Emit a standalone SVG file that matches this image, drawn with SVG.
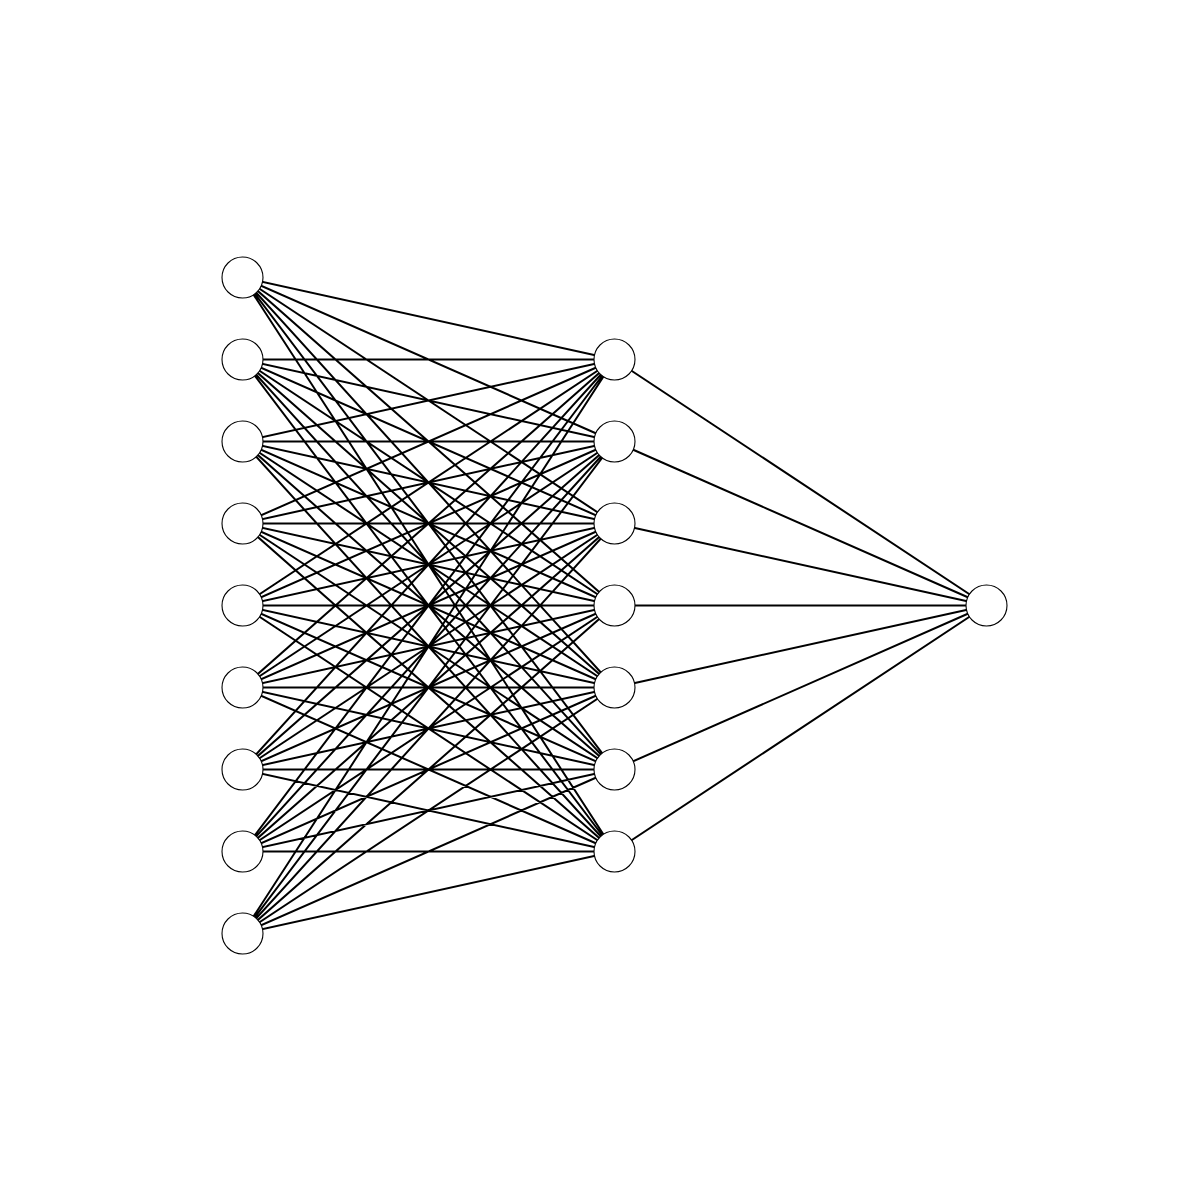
<svg xmlns="http://www.w3.org/2000/svg" width="1200" height="1200" viewBox="0 0 1200 1200">
<style>
.e{stroke:#000;stroke-width:2;fill:none}
.n{fill:#fff;stroke:#000;stroke-width:1.1}
</style>
<rect width="1200" height="1200" fill="#fff"/>
<g id="connectors" class="e">
<path d="M242.5,277.5L614.5,359.5M242.5,277.5L614.5,441.5M242.5,277.5L614.5,523.5M242.5,277.5L614.5,605.5M242.5,277.5L614.5,687.5M242.5,277.5L614.5,769.5M242.5,277.5L614.5,851.5
M242.5,359.5L614.5,359.5M242.5,359.5L614.5,441.5M242.5,359.5L614.5,523.5M242.5,359.5L614.5,605.5M242.5,359.5L614.5,687.5M242.5,359.5L614.5,769.5M242.5,359.5L614.5,851.5
M242.5,441.5L614.5,359.5M242.5,441.5L614.5,441.5M242.5,441.5L614.5,523.5M242.5,441.5L614.5,605.5M242.5,441.5L614.5,687.5M242.5,441.5L614.5,769.5M242.5,441.5L614.5,851.5
M242.5,523.5L614.5,359.5M242.5,523.5L614.5,441.5M242.5,523.5L614.5,523.5M242.5,523.5L614.5,605.5M242.5,523.5L614.5,687.5M242.5,523.5L614.5,769.5M242.5,523.5L614.5,851.5
M242.5,605.5L614.5,359.5M242.5,605.5L614.5,441.5M242.5,605.5L614.5,523.5M242.5,605.5L614.5,605.5M242.5,605.5L614.5,687.5M242.5,605.5L614.5,769.5M242.5,605.5L614.5,851.5
M242.5,687.5L614.5,359.5M242.5,687.5L614.5,441.5M242.5,687.5L614.5,523.5M242.5,687.5L614.5,605.5M242.5,687.5L614.5,687.5M242.5,687.5L614.5,769.5M242.5,687.5L614.5,851.5
M242.5,769.5L614.5,359.5M242.5,769.5L614.5,441.5M242.5,769.5L614.5,523.5M242.5,769.5L614.5,605.5M242.5,769.5L614.5,687.5M242.5,769.5L614.5,769.5M242.5,769.5L614.5,851.5
M242.5,851.5L614.5,359.5M242.5,851.5L614.5,441.5M242.5,851.5L614.5,523.5M242.5,851.5L614.5,605.5M242.5,851.5L614.5,687.5M242.5,851.5L614.5,769.5M242.5,851.5L614.5,851.5
M242.5,933.5L614.5,359.5M242.5,933.5L614.5,441.5M242.5,933.5L614.5,523.5M242.5,933.5L614.5,605.5M242.5,933.5L614.5,687.5M242.5,933.5L614.5,769.5M242.5,933.5L614.5,851.5
M614.5,359.5L986.5,605.5M614.5,441.5L986.5,605.5M614.5,523.5L986.5,605.5M614.5,605.5L986.5,605.5M614.5,687.5L986.5,605.5M614.5,769.5L986.5,605.5M614.5,851.5L986.5,605.5"/>
</g>
<g id="in1"><circle class="n" cx="242.5" cy="277.5" r="20.5"/></g>
<g id="in2"><circle class="n" cx="242.5" cy="359.5" r="20.5"/></g>
<g id="in3"><circle class="n" cx="242.5" cy="441.5" r="20.5"/></g>
<g id="in4"><circle class="n" cx="242.5" cy="523.5" r="20.5"/></g>
<g id="in5"><circle class="n" cx="242.5" cy="605.5" r="20.5"/></g>
<g id="in6"><circle class="n" cx="242.5" cy="687.5" r="20.5"/></g>
<g id="in7"><circle class="n" cx="242.5" cy="769.5" r="20.5"/></g>
<g id="in8"><circle class="n" cx="242.5" cy="851.5" r="20.5"/></g>
<g id="in9"><circle class="n" cx="242.5" cy="933.5" r="20.5"/></g>
<g id="h1"><circle class="n" cx="614.5" cy="359.5" r="20.5"/></g>
<g id="h2"><circle class="n" cx="614.5" cy="441.5" r="20.5"/></g>
<g id="h3"><circle class="n" cx="614.5" cy="523.5" r="20.5"/></g>
<g id="h4"><circle class="n" cx="614.5" cy="605.5" r="20.5"/></g>
<g id="h5"><circle class="n" cx="614.5" cy="687.5" r="20.5"/></g>
<g id="h6"><circle class="n" cx="614.5" cy="769.5" r="20.5"/></g>
<g id="h7"><circle class="n" cx="614.5" cy="851.5" r="20.5"/></g>
<g id="out"><circle class="n" cx="986.5" cy="605.5" r="20.5"/></g>
</svg>
